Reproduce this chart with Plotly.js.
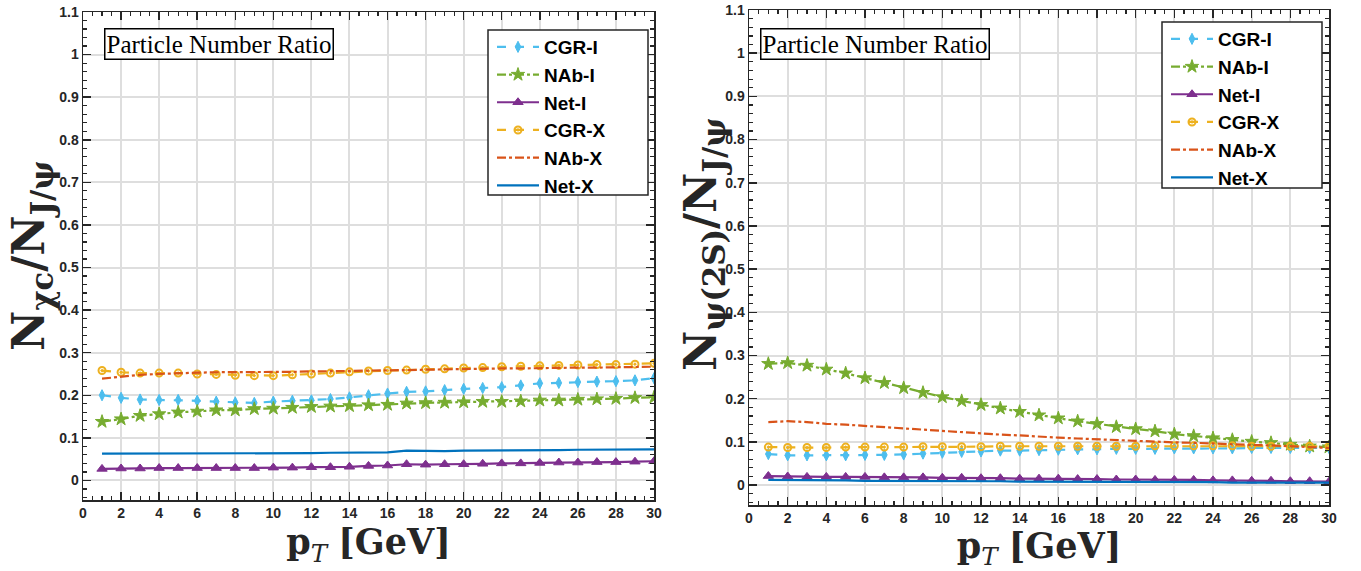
<!DOCTYPE html>
<html>
<head>
<meta charset="utf-8">
<script src="https://cdn.plot.ly/plotly-3.0.1.min.js"></script>
<style>html,body{margin:0;padding:0;background:#fff;}#chart{width:1361px;height:571px;}</style>
</head>
<body>
<div id="chart"></div>
<script>
// ---- data ----
const pT = [1,2,3,4,5,6,7,8,9,10,11,12,13,14,15,16,17,18,19,20,21,22,23,24,25,26,27,28,29,30];
const seriesNames = ['CGR-I','NAb-I','Net-I','CGR-X','NAb-X','Net-X'];

// Left panel: N_chi_c / N_J/psi
const chi_CGR_I = [0.200,0.194,0.190,0.189,0.189,0.187,0.185,0.183,0.182,0.185,0.187,0.188,0.191,0.195,0.200,0.204,0.208,0.209,0.212,0.215,0.217,0.219,0.223,0.228,0.229,0.231,0.232,0.233,0.235,0.240];
const chi_NAb_I = [0.138,0.144,0.152,0.156,0.160,0.162,0.165,0.165,0.168,0.169,0.171,0.173,0.174,0.175,0.177,0.178,0.181,0.182,0.183,0.184,0.185,0.185,0.186,0.188,0.188,0.190,0.191,0.192,0.194,0.195];
const chi_Net_I = [0.027,0.028,0.028,0.029,0.029,0.029,0.029,0.029,0.029,0.030,0.030,0.031,0.031,0.032,0.034,0.035,0.038,0.037,0.038,0.038,0.039,0.040,0.040,0.041,0.042,0.042,0.043,0.043,0.044,0.045];
const chi_CGR_X = [0.258,0.254,0.252,0.252,0.252,0.250,0.249,0.247,0.246,0.246,0.248,0.250,0.252,0.255,0.257,0.258,0.259,0.261,0.262,0.264,0.265,0.267,0.268,0.269,0.270,0.271,0.272,0.272,0.273,0.275];
const chi_NAb_X = [0.239,0.244,0.248,0.250,0.252,0.253,0.254,0.254,0.255,0.255,0.255,0.256,0.256,0.257,0.258,0.258,0.259,0.260,0.261,0.262,0.262,0.263,0.263,0.264,0.264,0.265,0.265,0.266,0.266,0.267];
const chi_Net_X = [0.063,0.063,0.063,0.063,0.063,0.063,0.063,0.063,0.064,0.064,0.064,0.064,0.065,0.065,0.066,0.066,0.070,0.069,0.069,0.070,0.070,0.070,0.071,0.071,0.071,0.072,0.072,0.072,0.073,0.073];

// Right panel: N_psi(2S) / N_J/psi
const psi_CGR_I = [0.072,0.069,0.069,0.069,0.069,0.070,0.070,0.071,0.073,0.075,0.077,0.078,0.080,0.080,0.081,0.082,0.083,0.083,0.084,0.084,0.084,0.085,0.085,0.085,0.085,0.086,0.086,0.086,0.086,0.086];
const psi_NAb_I = [0.281,0.283,0.277,0.268,0.259,0.248,0.237,0.225,0.214,0.204,0.195,0.186,0.178,0.170,0.162,0.155,0.148,0.142,0.135,0.130,0.125,0.118,0.114,0.109,0.105,0.101,0.098,0.094,0.090,0.088];
const psi_Net_I = [0.021,0.020,0.019,0.019,0.019,0.019,0.018,0.018,0.018,0.017,0.017,0.016,0.016,0.015,0.015,0.015,0.014,0.014,0.013,0.013,0.012,0.012,0.012,0.011,0.011,0.010,0.010,0.009,0.009,0.008];
const psi_CGR_X = [0.088,0.087,0.087,0.087,0.088,0.088,0.088,0.088,0.089,0.089,0.089,0.089,0.090,0.090,0.090,0.090,0.090,0.090,0.090,0.090,0.091,0.091,0.091,0.091,0.091,0.090,0.090,0.090,0.090,0.090];
const psi_NAb_X = [0.146,0.148,0.146,0.142,0.140,0.137,0.134,0.131,0.128,0.125,0.122,0.119,0.117,0.115,0.112,0.110,0.108,0.106,0.104,0.102,0.101,0.099,0.098,0.096,0.095,0.093,0.092,0.090,0.088,0.086];
const psi_Net_X = [0.012,0.012,0.011,0.011,0.011,0.010,0.010,0.010,0.010,0.009,0.009,0.009,0.009,0.008,0.008,0.008,0.008,0.008,0.007,0.007,0.007,0.007,0.007,0.007,0.006,0.006,0.006,0.006,0.006,0.006];

const xTickVals = [0,2,4,6,8,10,12,14,16,18,20,22,24,26,28,30];
const yTickVals = [0,0.1,0.2,0.3,0.4,0.5,0.6,0.7,0.8,0.9,1,1.1];
const yTickText = ['0','0.1','0.2','0.3','0.4','0.5','0.6','0.7','0.8','0.9','1','1.1'];

const leftYTitle = '<b>N<sub>χc</sub>/N<sub>J/ψ</sub></b>';
const rightYTitle = '<b>N<sub>ψ(2S)</sub>/N<sub>J/ψ</sub></b>';
const xTitle = '<b>p</b><sub><i>T</i></sub> <b>[GeV]</b>';
const boxLabel = 'Particle Number Ratio';

// ---- styles ----
const styles = [
  {color:'#4DBEEE', dash:'dash',    symbol:'diamond-tall',    msize:8,  mode:'lines+markers'},
  {color:'#77AC30', dash:'dashdot', symbol:'star',            msize:10, mode:'lines+markers'},
  {color:'#7E2F8E', dash:'solid',   symbol:'triangle-up',     msize:9,  mode:'lines+markers'},
  {color:'#EDB120', dash:'dash',    symbol:'circle-open-dot', msize:7,  mode:'lines+markers'},
  {color:'#D95319', dash:'dashdot', symbol:'circle',          msize:0,  mode:'lines'},
  {color:'#0072BD', dash:'solid',   symbol:'circle',          msize:0,  mode:'lines'}
];

function makeTraces(arrs, xa, ya, legendId){
  return arrs.map((ys,i)=>{
    const s = styles[i];
    const t = {
      x: pT, y: ys, name: seriesNames[i], type:'scatter', mode: s.mode,
      xaxis: xa, yaxis: ya, legend: legendId,
      line:{color:s.color, width:2.2, dash:s.dash}
    };
    if (s.mode.indexOf('markers')>=0){
      t.marker = {symbol:s.symbol, size:s.msize, color:s.color, line:{color:s.color, width: s.symbol==='circle-open-dot'?2:1}};
    }
    return t;
  });
}

const traces = [].concat(
  makeTraces([chi_CGR_I,chi_NAb_I,chi_Net_I,chi_CGR_X,chi_NAb_X,chi_Net_X],'x','y','legend'),
  makeTraces([psi_CGR_I,psi_NAb_I,psi_Net_I,psi_CGR_X,psi_NAb_X,psi_Net_X],'x2','y2','legend2')
);

const tickFont = {family:'Liberation Sans, Arial, sans-serif', size:14, color:'#262626', weight:'bold'};
const titleFontY = {family:'DejaVu Serif, serif', size:44, color:'#262626'};
const titleFontX = {family:'DejaVu Serif, serif', size:35, color:'#262626'};

function xAxis(domain, anchor){
  return {
    domain: domain, anchor: anchor, range:[0,30], tickvals:xTickVals, ticktext:xTickVals.map(String),
    ticks:'inside', ticklen:8, tickwidth:1.5, tickcolor:'#262626',
    minor:{ticks:'inside', dtick:0.5, tick0:0, ticklen:4, tickwidth:1.2, tickcolor:'#262626', showgrid:false},
    showline:true, linecolor:'#262626', linewidth:1.5, mirror:'allticks',
    showgrid:true, gridcolor:'#dedede', gridwidth:2, zeroline:false,
    tickfont: tickFont, automargin:false,
    title:{text:xTitle, font:titleFontX, standoff:2}
  };
}
function yAxis(domain, anchor){
  return {
    domain: domain, anchor: anchor, range:[-0.046,1.1], tickvals:yTickVals, ticktext:yTickText,
    ticks:'inside', ticklen:8, tickwidth:1.5, tickcolor:'#262626',
    minor:{ticks:'inside', dtick:0.02, tick0:0, ticklen:4, tickwidth:1.2, tickcolor:'#262626', showgrid:false},
    showline:true, linecolor:'#262626', linewidth:1.5, mirror:'allticks',
    showgrid:true, gridcolor:'#dedede', gridwidth:2, zeroline:false,
    tickfont: tickFont, automargin:false
  };
}

const legendCommon = {
  bgcolor:'rgba(0,0,0,0)', borderwidth:0,
  font:{family:'Liberation Sans, Arial, sans-serif', size:19, color:'#000', weight:'bold'},
  xanchor:'left', yanchor:'top', tracegroupgap:0, itemwidth:42
};

const boxFont = {family:'Liberation Serif, serif', size:25, color:'#000'};
const W = 1361, H = 571;
function legendBox(x0,x1,y0,y1){
  return {type:'rect', xref:'paper', yref:'paper', x0:x0/W, x1:x1/W, y0:1-y1/H, y1:1-y0/H,
          line:{color:'#262626', width:1.5}, fillcolor:'#ffffff', layer:'above'};
}

const layout = {
  width:W, height:H,
  margin:{l:0, r:0, t:0, b:0},
  paper_bgcolor:'#ffffff', plot_bgcolor:'#ffffff',
  showlegend:true,
  xaxis: xAxis([83/W, 654/W], 'y'),
  yaxis: yAxis([1-500/H, 1-12/H], 'x'),
  xaxis2: xAxis([749/W, 1329/W], 'y2'),
  yaxis2: yAxis([1-505/H, 1-10/H], 'x2'),
  legend: Object.assign({x:492/W, y:1-28/H}, legendCommon),
  legend2: Object.assign({x:1166/W, y:1-20/H}, legendCommon),
  shapes:[ legendBox(488,648,30,195), legendBox(1162,1322,22,188) ],
  annotations:[
    {xref:'paper', yref:'paper', x:104/W, y:1-28/H, xanchor:'left', yanchor:'top', showarrow:false,
     text:boxLabel, font:boxFont, bordercolor:'#000', borderwidth:1.5, borderpad:1, bgcolor:'#fff'},
    {xref:'paper', yref:'paper', x:760/W, y:1-28/H, xanchor:'left', yanchor:'top', showarrow:false,
     text:boxLabel, font:boxFont, bordercolor:'#000', borderwidth:1.5, borderpad:1, bgcolor:'#fff'},
    {xref:'paper', yref:'paper', x:31/W, y:1-256/H, xanchor:'center', yanchor:'middle', showarrow:false,
     textangle:-90, text:leftYTitle, font:titleFontY},
    {xref:'paper', yref:'paper', x:703/W, y:1-244/H, xanchor:'center', yanchor:'middle', showarrow:false,
     textangle:-90, text:rightYTitle, font:titleFontY}
  ]
};

Plotly.newPlot('chart', traces, layout, {staticPlot:true, displayModeBar:false});
</script>
</body>
</html>
